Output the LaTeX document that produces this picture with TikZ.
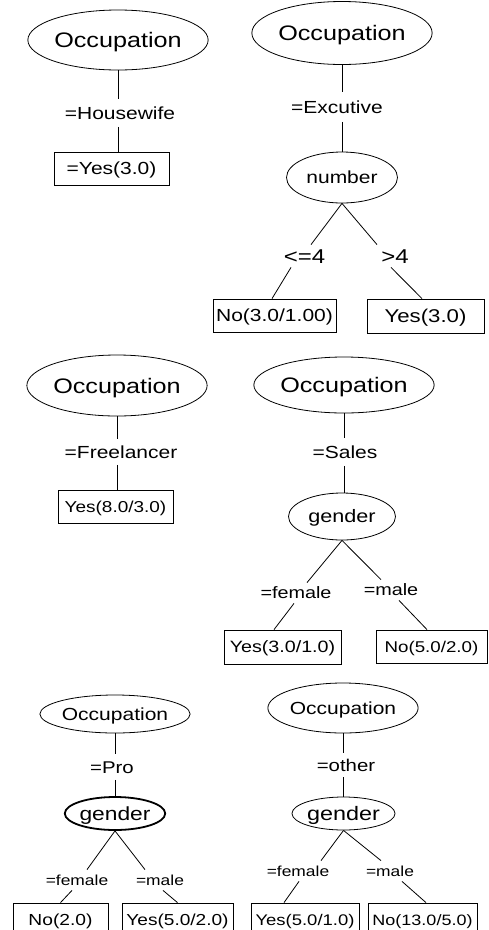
\documentclass[tikz,border=0pt]{standalone}
\usepackage{fontspec}
\setmainfont{Liberation Sans}[FakeStretch=1.2]
\usetikzlibrary{shapes.geometric}
\begin{document}
\begin{tikzpicture}[x=1pt, y=-1pt, line width=0.8pt,
  fs/.style={font=\fontsize{#1}{#1}\selectfont, text height={0.716*#1pt}, text depth=0pt},
  attr/.style={draw, ellipse, inner sep=0pt},
  cond/.style={inner sep=0pt},
  leaf/.style={draw, rectangle, inner sep=0pt}]
\useasboundingbox (0,0) rectangle (488,930);

% --- Occupation = Housewife
\node[attr, fs=21, minimum width=133pt, minimum height=60pt] (o1) at (118,40) {Occupation};
\node[cond, fs=17.5, minimum height=27pt] (l1) at (120,113) {=Housewife};
\node[leaf, fs=17.5, minimum width=115pt, minimum height=33pt] (b1) at (111.5,168.5) {=Yes(3.0)};
\draw (o1.south) -- (o1.south |- l1.north);
\draw (l1.south -| o1.south) -- (o1.south |- b1.north);

% --- Occupation = Excutive
\node[attr, fs=21, minimum width=135pt, minimum height=63pt] (o2) at (342,33) {Occupation};
\node[cond, fs=17.5, minimum height=29pt] (l2) at (337,107) {=Excutive};
\node[attr, fs=17.5, minimum width=111pt, minimum height=51pt] (n2) at (342,177.5) {number};
\node[cond, fs=20, minimum height=22pt] (c1) at (304.5,256) {<=4};
\node[cond, fs=20, minimum height=22pt] (c2) at (395,256) {>4};
\node[leaf, fs=17.5, minimum width=123pt, minimum height=33pt] (b3) at (274.5,315.5) {No(3.0/1.00)};
\node[leaf, fs=18.5, minimum width=117pt, minimum height=34pt] (b4) at (425.5,316) {Yes(3.0)};
\draw (o2.south) -- (o2.south |- l2.north);
\draw (l2.south -| o2.south) -- (n2.north);
\draw (n2.south) -- ([xshift=6.5pt]c1.north);
\draw ([xshift=-13.5pt]c1.south) -- ([xshift=-2.5pt]b3.north);
\draw (n2.south) -- ([xshift=-18pt]c2.north);
\draw ([xshift=-4pt]c2.south) -- ([xshift=-3.5pt]b4.north);

% --- Occupation = Freelancer
\node[attr, fs=21, minimum width=132pt, minimum height=61pt] (o3) at (117,385.5) {Occupation};
\node[cond, fs=17.5, minimum height=25pt] (l3) at (121,452) {=Freelancer};
\node[leaf, fs=15.8, minimum width=115pt, minimum height=33pt] (b5) at (115.5,506.5) {Yes(8.0/3.0)};
\draw (o3.south) -- (o3.south |- l3.north);
\draw (l3.south -| o3.south) -- (o3.south |- b5.north);

% --- Occupation = Sales
\node[attr, fs=21, minimum width=132pt, minimum height=56pt] (o4) at (344,385) {Occupation};
\node[cond, fs=17.5, minimum height=27pt] (l4) at (345,452) {=Sales};
\node[attr, fs=18, minimum width=107pt, minimum height=47pt] (g4) at (342,516.5) {gender};
\node[cond, fs=16.5, minimum height=20pt] (f4) at (296,593) {=female};
\node[cond, fs=16.5, minimum height=20pt] (m4) at (391,590) {=male};
\node[leaf, fs=16.4, minimum width=117pt, minimum height=34pt] (b6) at (282.5,647) {Yes(3.0/1.0)};
\node[leaf, fs=15.6, minimum width=111pt, minimum height=33pt] (b7) at (431.5,646.5) {No(5.0/2.0)};
\draw (o4.south) -- (o4.south |- l4.north);
\draw (l4.south -| o4.south) -- (o4.south |- g4.north);
\draw (g4.south) -- ([xshift=11pt]f4.north);
\draw ([xshift=-2pt]f4.south) -- ([xshift=-8.5pt]b6.north);
\draw (g4.south) -- ([xshift=-10pt]m4.north);
\draw ([xshift=8pt]m4.south) -- ([xshift=-4.5pt]b7.north);

% --- Occupation = Pro
\node[attr, fs=17.5, minimum width=110pt, minimum height=38pt] (o5) at (115,714) {Occupation};
\node[cond, fs=17, minimum height=25pt] (l5) at (112,767) {=Pro};
\node[attr, fs=19, line width=1.8pt, minimum width=83pt, minimum height=33pt] (g5) at (115,813.5) {gender};
\node[cond, fs=14.5, minimum height=20pt] (f5) at (77,880) {=female};
\node[cond, fs=14.5, minimum height=20pt] (m5) at (160,880) {=male};
\node[leaf, fs=16, minimum width=95pt, minimum height=34pt] (b8) at (60.5,920) {No(2.0)};
\node[leaf, fs=15.9, minimum width=111pt, minimum height=34pt] (b9) at (177.5,920) {Yes(5.0/2.0)};
\draw (o5.south) -- (o5.south |- l5.north);
\draw (l5.south -| o5.south) -- (o5.south |- g5.north);
\draw (g5.south) -- ([xshift=10pt]f5.north);
\draw ([xshift=-5pt]f5.south) -- (b8.north);
\draw (g5.south) -- ([xshift=-15pt]m5.north);
\draw ([xshift=3pt]m5.south) -- (b9.north);

% --- Occupation = other
\node[attr, fs=17.5, minimum width=112pt, minimum height=50pt] (o6) at (343,708) {Occupation};
\node[cond, fs=17, minimum height=24pt] (l6) at (346,765) {=other};
\node[attr, fs=19.5, minimum width=79pt, minimum height=33pt] (g6) at (343.5,813.5) {gender};
\node[cond, fs=14.5, minimum height=20pt] (f6) at (298,871) {=female};
\node[cond, fs=14.5, minimum height=20pt] (m6) at (390,871) {=male};
\node[leaf, fs=15.4, minimum width=108pt, minimum height=34pt] (b10) at (305,920) {Yes(5.0/1.0)};
\node[leaf, fs=15, minimum width=109pt, minimum height=34pt] (b11) at (422.5,920) {No(13.0/5.0)};
\draw (o6.south) -- (o6.south |- l6.north);
\draw (l6.south -| o6.south) -- (o6.south |- g6.north);
\draw (g6.south) -- ([xshift=23pt]f6.north);
\draw ([xshift=1pt]f6.south) -- ([xshift=-21pt]b10.north);
\draw (g6.south) -- ([xshift=-9pt]m6.north);
\draw ([xshift=12pt]m6.south) -- ([xshift=3.5pt]b11.north);
\end{tikzpicture}
\end{document}
